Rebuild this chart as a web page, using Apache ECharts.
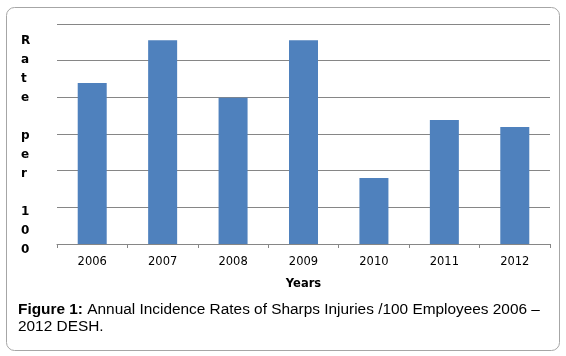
<!DOCTYPE html>
<html><head><meta charset="utf-8">
<script src="https://cdn.jsdelivr.net/npm/echarts@6/dist/echarts.min.js"></script>
<style>html,body{margin:0;padding:0;background:#fff}#c{width:566px;height:356px}</style>
</head><body><div id="c"></div>
<script>
const categories = ['2006','2007','2008','2009','2010','2011','2012'];
const rates = [4.39, 5.56, 3.99, 5.56, 1.80, 3.38, 3.19];
const yTitle = 'R\na\nt\ne\n\np\ne\nr\n\n1\n0\n0';
const xTitle = 'Years';
const captionBold = 'Figure 1:';
const captionText = ' Annual Incidence Rates of Sharps Injuries /100 Employees 2006 –';
const captionLine2 = '2012 DESH.';

const chart = echarts.init(document.getElementById('c'));
chart.setOption({
  animation: false,
  grid: {left: 57, right: 16, top: 24, bottom: 112, containLabel: false},
  xAxis: {
    type: 'category', data: categories,
    axisLine: {lineStyle: {color: '#868686', width: 1}},
    axisTick: {show: true, length: 4, lineStyle: {color: '#868686'}},
    axisLabel: {color: '#000', fontFamily: 'DejaVu Sans', fontSize: 11.5, margin: 12},
    name: xTitle, nameLocation: 'middle', nameGap: 34,
    nameTextStyle: {color: '#000', fontFamily: 'DejaVu Sans', fontSize: 11.5, fontWeight: 'bold'}
  },
  yAxis: {
    type: 'value', min: 0, max: 6, interval: 1,
    axisLine: {show: false}, axisTick: {show: false}, axisLabel: {show: false},
    splitLine: {lineStyle: {color: '#868686', width: 1}}
  },
  series: [{type: 'bar', data: rates, barWidth: 29, itemStyle: {color: '#4F81BD'}}],
  graphic: [
    {type: 'rect', shape: {x: 6.5, y: 7.5, width: 553, height: 343, r: 8},
     style: {fill: 'none', stroke: '#a6a6a6', lineWidth: 1}, z: -1},
    {type: 'text', left: 21, top: 31,
     style: {text: yTitle, fill: '#000', font: 'bold 12px "DejaVu Sans"', lineHeight: 19}},
    {type: 'text', left: 18, top: 302,
     style: {text: '{b|' + captionBold + '}{n|' + captionText + '}\n{n|' + captionLine2 + '}',
       rich: {
         b: {fontFamily: 'Liberation Sans', fontSize: 15.4, fontWeight: 'bold', fill: '#000', lineHeight: 17},
         n: {fontFamily: 'Liberation Sans', fontSize: 15.4, fill: '#000', lineHeight: 17}
       }}}
  ]
});
</script></body></html>
